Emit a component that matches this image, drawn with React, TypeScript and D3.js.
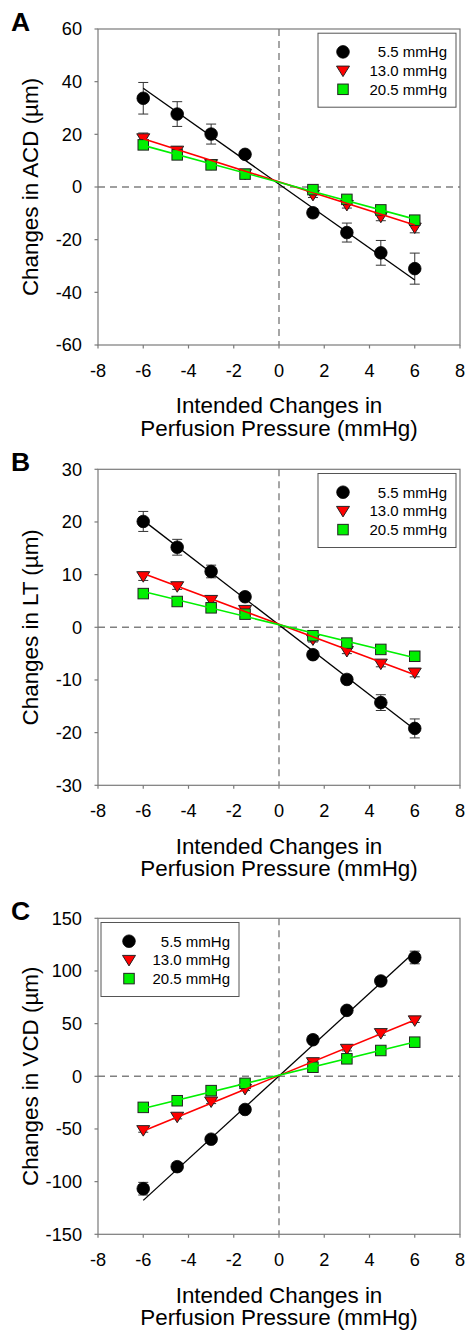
import React from "react";
import * as d3 from "d3";

// ---------- data ----------
const X_VALUES = [-6, -4.5, -3, -1.5, 1.5, 3, 4.5, 6];
const X_TICKS = [-8, -6, -4, -2, 0, 2, 4, 6, 8];
const FIT_X = [-6, 6];
const SERIES_LABELS = ["5.5 mmHg", "13.0 mmHg", "20.5 mmHg"];

// Panel A: ACD
const ACD_LOW = [33.7, 27.7, 20.1, 12.4, -9.8, -17.3, -25.0, -31.0];
const ACD_LOW_ERR = [6.0, 4.7, 3.8, 1.5, 1.5, 3.6, 4.7, 5.9];
const ACD_MID = [18.5, 13.8, 8.7, 5.0, -3.0, -6.8, -11.3, -15.4];
const ACD_MID_ERR = [2.0, 1.5, 1.2, 1.0, 1.0, 1.2, 1.5, 2.0];
const ACD_HIGH = [16.0, 12.2, 8.4, 4.9, -1.0, -4.7, -8.7, -12.6];
const ACD_HIGH_ERR = [1.5, 1.2, 1.0, 0.8, 0.8, 1.0, 1.2, 1.5];
const ACD_FIT_LOW = [37.5, -35.3];
const ACD_FIT_MID = [18.3, -14.4];
const ACD_FIT_HIGH = [15.8, -12.2];
const ACD_Y_TICKS = [-60, -40, -20, 0, 20, 40, 60];

// Panel B: LT
const LT_LOW = [20.1, 15.2, 10.6, 5.8, -5.2, -9.9, -14.3, -19.2];
const LT_LOW_ERR = [1.9, 1.5, 1.2, 0.6, 0.5, 0.8, 1.5, 1.8];
const LT_MID = [9.7, 7.8, 5.2, 3.3, -2.3, -4.5, -6.9, -8.6];
const LT_MID_ERR = [0.8, 0.6, 0.5, 0.4, 0.5, 0.5, 0.6, 0.8];
const LT_HIGH = [6.4, 4.9, 3.7, 2.5, -1.6, -3.0, -4.2, -5.5];
const LT_HIGH_ERR = [0.6, 0.5, 0.5, 0.4, 0.4, 0.5, 0.5, 0.6];
const LT_FIT_LOW = [20.3, -19.4];
const LT_FIT_MID = [10.2, -9.0];
const LT_FIT_HIGH = [6.8, -5.8];
const LT_Y_TICKS = [-30, -20, -10, 0, 10, 20, 30];

// Panel C: VCD
const VCD_LOW = [-106.7, -85.8, -59.7, -31.5, 34.7, 62.6, 90.5, 112.8];
const VCD_LOW_ERR = [6.0, 3.0, 2.5, 2.0, 2.5, 3.0, 3.5, 6.0];
const VCD_MID = [-51.1, -38.4, -23.9, -12.0, 13.4, 26.1, 41.0, 53.1];
const VCD_MID_ERR = [2.0, 2.0, 2.0, 1.5, 1.5, 2.0, 2.0, 2.0];
const VCD_HIGH = [-29.5, -23.2, -13.6, -6.7, 8.6, 16.6, 24.5, 32.4];
const VCD_HIGH_ERR = [1.5, 1.5, 1.5, 1.0, 1.0, 1.5, 1.5, 1.5];
const VCD_FIT_LOW = [-117.8, 118.2];
const VCD_FIT_MID = [-52.0, 53.5];
const VCD_FIT_HIGH = [-30.5, 32.5];
const VCD_Y_TICKS = [-150, -100, -50, 0, 50, 100, 150];

// ---------- styling / layout ----------
const FONT = "'Liberation Sans', Arial, Helvetica, sans-serif";
const AXIS_COLOR = "#7a7a7a";
const COLORS = ["#000000", "#ff0000", "#00f000"];
const PLOT_LEFT = 98;
const PLOT_RIGHT = 460;
const PLOT_HEIGHT = 316;

type Series = { values: number[]; err: number[]; fit: number[] };
type Panel = {
  letter: string;
  top: number;
  yLabel: string;
  yTicks: number[];
  series: Series[];
  legendLeft: boolean;
};

const PANELS: Panel[] = [
  {
    letter: "A",
    top: 29,
    yLabel: "Changes in ACD (\u00b5m)",
    yTicks: ACD_Y_TICKS,
    legendLeft: false,
    series: [
      { values: ACD_LOW, err: ACD_LOW_ERR, fit: ACD_FIT_LOW },
      { values: ACD_MID, err: ACD_MID_ERR, fit: ACD_FIT_MID },
      { values: ACD_HIGH, err: ACD_HIGH_ERR, fit: ACD_FIT_HIGH },
    ],
  },
  {
    letter: "B",
    top: 469.3,
    yLabel: "Changes in LT (\u00b5m)",
    yTicks: LT_Y_TICKS,
    legendLeft: false,
    series: [
      { values: LT_LOW, err: LT_LOW_ERR, fit: LT_FIT_LOW },
      { values: LT_MID, err: LT_MID_ERR, fit: LT_FIT_MID },
      { values: LT_HIGH, err: LT_HIGH_ERR, fit: LT_FIT_HIGH },
    ],
  },
  {
    letter: "C",
    top: 918.3,
    yLabel: "Changes in VCD (\u00b5m)",
    yTicks: VCD_Y_TICKS,
    legendLeft: true,
    series: [
      { values: VCD_LOW, err: VCD_LOW_ERR, fit: VCD_FIT_LOW },
      { values: VCD_MID, err: VCD_MID_ERR, fit: VCD_FIT_MID },
      { values: VCD_HIGH, err: VCD_HIGH_ERR, fit: VCD_FIT_HIGH },
    ],
  },
];

function Marker({ kind, x, y }: { kind: number; x: number; y: number }) {
  if (kind === 0) {
    return <circle cx={x} cy={y} r={6.3} fill="#000" stroke="#000" strokeWidth={0.8} />;
  }
  if (kind === 1) {
    const w = 6.5;
    const h = 10;
    const p = `M${x - w},${y - h * 0.45} L${x + w},${y - h * 0.45} L${x},${y + h * 0.6} Z`;
    return <path d={p} fill={COLORS[1]} stroke="#222" strokeWidth={1} />;
  }
  const s = 10.5;
  return (
    <rect x={x - s / 2} y={y - s / 2} width={s} height={s} fill={COLORS[2]} stroke="#222" strokeWidth={1} />
  );
}

function PanelView({ panel }: { panel: Panel }) {
  const top = panel.top;
  const bottom = top + PLOT_HEIGHT;
  const x = d3.scaleLinear().domain([-8, 8]).range([PLOT_LEFT, PLOT_RIGHT]);
  const yMin = d3.min(panel.yTicks) as number;
  const yMax = d3.max(panel.yTicks) as number;
  const y = d3.scaleLinear().domain([yMin, yMax]).range([bottom, top]);
  const line = d3
    .line<[number, number]>()
    .x((d) => x(d[0]))
    .y((d) => y(d[1]));

  const midY = (top + bottom) / 2;
  const midX = x(0);

  const legW = 138;
  const legH = 74;
  const legX = panel.legendLeft ? PLOT_LEFT + 3 : PLOT_RIGHT - 4 - legW;
  const legY = top + 4.2;

  return (
    <g fontFamily={FONT}>
      {/* panel letter */}
      <text x={11} y={top + 1.5} fontSize={26.5} fontWeight="bold" fill="#000">
        {panel.letter}
      </text>

      {/* zero reference lines */}
      <line x1={PLOT_LEFT} x2={PLOT_RIGHT} y1={y(0)} y2={y(0)} stroke="#808080" strokeWidth={1.4} strokeDasharray="7,5" />
      <line x1={midX} x2={midX} y1={top} y2={bottom} stroke="#808080" strokeWidth={1.4} strokeDasharray="7,5" />

      {/* frame */}
      <rect x={PLOT_LEFT} y={top} width={PLOT_RIGHT - PLOT_LEFT} height={PLOT_HEIGHT} fill="none" stroke={AXIS_COLOR} strokeWidth={1.2} />

      {/* y ticks */}
      {panel.yTicks.map((t) => (
        <g key={`yt${t}`}>
          <line x1={PLOT_LEFT - 3.5} x2={PLOT_LEFT} y1={y(t)} y2={y(t)} stroke={AXIS_COLOR} strokeWidth={1.2} />
          <text x={82} y={y(t) + 6.3} fontSize={18.2} textAnchor="end" fill="#000">
            {t}
          </text>
        </g>
      ))}

      {/* x ticks */}
      {X_TICKS.map((t) => (
        <g key={`xt${t}`}>
          <line x1={x(t)} x2={x(t)} y1={bottom} y2={bottom + 3.5} stroke={AXIS_COLOR} strokeWidth={1.2} />
          <text x={x(t)} y={bottom + 31.5} fontSize={18.2} textAnchor="middle" fill="#000">
            {t}
          </text>
        </g>
      ))}

      {/* axis titles */}
      <text x={midX} y={bottom + 68.3} fontSize={22.4} textAnchor="middle" fill="#000">
        Intended Changes in
      </text>
      <text x={midX} y={bottom + 91} fontSize={22.4} textAnchor="middle" fill="#000">
        Perfusion Pressure (mmHg)
      </text>
      <text
        transform={`translate(37.5,${midY}) rotate(-90)`}
        fontSize={22.4}
        textAnchor="middle"
        fill="#000"
      >
        {panel.yLabel}
      </text>

      {/* error bars + markers */}
      {panel.series.map((s, si) => (
        <g key={`s${si}`}>
          {s.values.map((v, i) => {
            const cx = x(X_VALUES[i]);
            const e = s.err[i];
            return (
              <g key={`eb${i}`}>
                <line x1={cx} x2={cx} y1={y(v + e)} y2={y(v - e)} stroke="#333" strokeWidth={1} />
                <line x1={cx - 5} x2={cx + 5} y1={y(v + e)} y2={y(v + e)} stroke="#333" strokeWidth={1} />
                <line x1={cx - 5} x2={cx + 5} y1={y(v - e)} y2={y(v - e)} stroke="#333" strokeWidth={1} />
              </g>
            );
          })}
          {s.values.map((v, i) => (
            <Marker key={`m${i}`} kind={si} x={x(X_VALUES[i])} y={y(v)} />
          ))}
        </g>
      ))}

      {/* regression lines */}
      {panel.series.map((s, si) => (
        <path
          key={`f${si}`}
          d={line(FIT_X.map((fx, k) => [fx, s.fit[k]] as [number, number])) || ""}
          fill="none"
          stroke={COLORS[si]}
          strokeWidth={si === 0 ? 1.3 : 1.6}
        />
      ))}

      {/* legend */}
      <rect x={legX} y={legY} width={legW} height={legH} fill="#fff" stroke="#555" strokeWidth={1} />
      {SERIES_LABELS.map((lab, i) => {
        const ry = legY + 18.7 + i * 18.7;
        return (
          <g key={`lg${i}`}>
            <Marker kind={i} x={legX + (panel.legendLeft ? 28 : 25)} y={ry} />
            <text x={legX + 129} y={ry + 5.3} fontSize={15} textAnchor="end" fill="#000">
              {lab}
            </text>
          </g>
        );
      })}
    </g>
  );
}

export default function App() {
  return (
    <svg
      width={466}
      height={1332}
      style={{ position: "absolute", left: 0, top: 0, background: "#fff" }}
    >
      <rect x={0} y={0} width={466} height={1332} fill="#fff" />
      {PANELS.map((p) => (
        <PanelView key={p.letter} panel={p} />
      ))}
    </svg>
  );
}
